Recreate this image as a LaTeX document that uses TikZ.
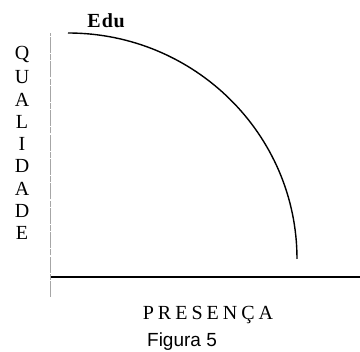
\documentclass[tikz,border=0pt]{standalone}
\usepackage{fontspec}
\setmainfont{Liberation Serif}
\newfontfamily\figfont{Liberation Sans}
\usetikzlibrary{positioning}

\begin{document}
\begin{tikzpicture}[
x=0.5pt, y=0.5pt,
axislabel/.style={font=\fontsize{10}{12}\selectfont, inner sep=0pt},
vaxis/.style={gray!70, line width=0.5pt, dash pattern=on 8pt off 0.6pt on 3pt off 0.6pt},
haxis/.style={black, line width=0.8pt},
curve/.style={black, line width=0.7pt}
]
\useasboundingbox (-51,-75) rectangle (309,277);
% axes
\coordinate (origin) at (0,0);
\coordinate (vtop) at (0,244);
\coordinate (vbot) at (0,-20);
\coordinate (hend) at (309,0);
\draw[vaxis] (vbot) -- (vtop);
\draw[haxis] (origin) -- (hend);
% curve
\coordinate (start) at (17,244);
\draw[curve] (start) arc[start angle=90, end angle=0, x radius=229, y radius=226] coordinate (finish);
\node[axislabel, font=\fontsize{10}{12}\selectfont\bfseries] (edu) at (55,256) {E\kern0.6pt d\kern0.3pt u};
% vertical label
\foreach \ch [count=\i] in {Q,U,A,L,I,D,A,D,E}
  \node[axislabel] (q\i) at (-29,{222-(\i-1)*22.25}) {\ch};
\node[axislabel, font=\fontsize{10}{12}\selectfont\addfontfeature{LetterSpace=20}] (presenca) at (157,-38) {PRESENÇA};
\node[inner sep=0pt, font=\figfont\fontsize{9.5}{11}\selectfont] (fig) at (131,-65) {Figura 5};
\end{tikzpicture}
\end{document}
